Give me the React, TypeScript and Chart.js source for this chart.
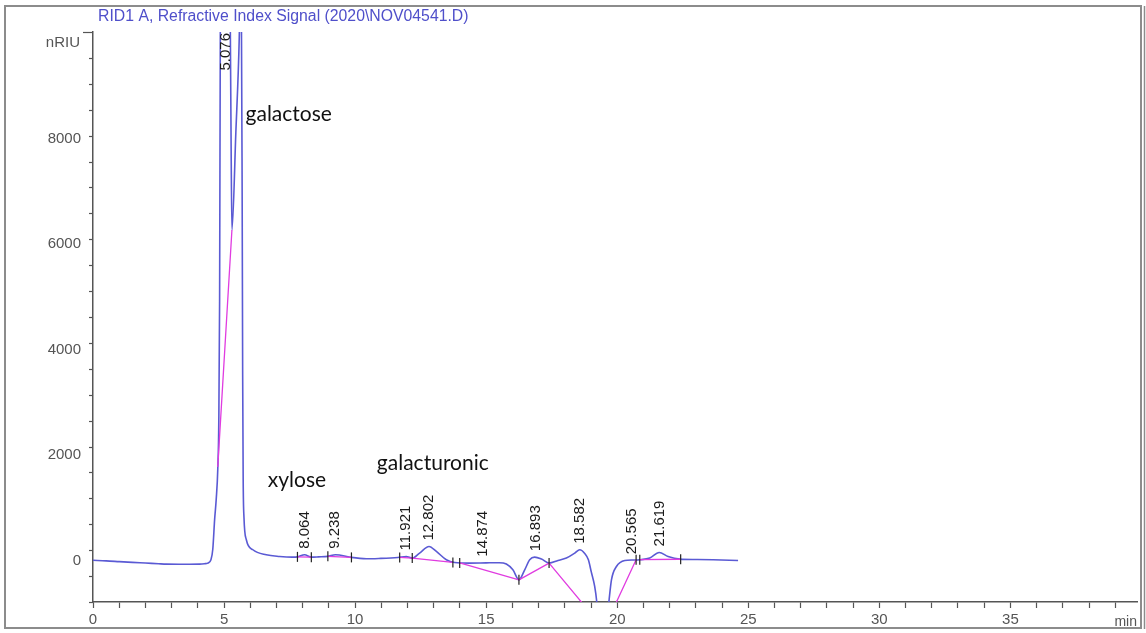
import React, { useEffect, useRef } from "react";
import { Chart, registerables } from "chart.js";

Chart.register(...registerables);

// ---- data (retention time in min, signal in nRIU) ----
const timeMin = [
  0, 0.5, 1, 1.5, 2, 2.5, 2.8, 3.5, 4.06, 4.25,
  4.38, 4.5, 4.57, 4.64, 4.7, 4.76, 4.8, 4.83, 4.86, 4.92,
  5.1, 5.2, 5.24, 5.27, 5.3, 5.45, 5.58, 5.62, 5.66, 5.69,
  5.71, 5.73, 5.76, 5.85, 6.1, 6.61, 7.12, 7.6, 7.8, 8.07,
  8.33, 8.6, 8.96, 9.25, 9.4, 9.86, 10.43, 10.9, 11.63, 11.95,
  12.18, 12.46, 12.82, 13.1, 13.48, 13.8, 14.37, 15.0, 15.5, 15.77,
  16.02, 16.25, 16.47, 16.66, 16.85, 17.11, 17.4, 17.74, 18.06, 18.38,
  18.57, 18.76, 18.9, 19.01, 19.14, 19.22, 19.3, 19.45, 19.6, 19.69,
  19.78, 19.97, 20.29, 20.6, 20.86, 21.24, 21.6, 21.94, 22.39, 23.0,
  23.66, 24.61,
];
const signalNRIU = [
  -10, -20, -35, -50, -62, -75, -82, -85, -82, -75,
  -63, 0, 200, 760, 1140, 1710, 2650, 4900, 10500, 13000,
  13000, 11500, 10000, 7800, 6250, 8100, 9900, 11000, 10500, 7000,
  3500, 1500, 800, 380, 190, 95, 63, 50, 55, 95,
  50, 55, 65, 95, 90, 45, 19, 25, 44, 63,
  32, 127, 252, 158, 0, -51, -63, -58, -55, -80,
  -190, -380, -190, 0, 50, 13, -63, -13, 32, 127,
  190, 120, 0, -230, -506, -800, -1300, -1500, -1200, -760,
  -380, -127, -15, -5, 0, 32, 139, 63, 13, 5,
  0, -13,
];

// integration baselines (magenta)
const baseStartT = [4.76, 7.8, 8.96, 11.7, 12.18, 13.99, 16.25, 17.4, 19.9, 20.86];
const baseStartV = [1760, 55, 65, 45, 32, -60, -380, -63, -875, 2];
const baseEndT = [5.3, 8.33, 9.86, 12.18, 13.73, 16.25, 17.4, 18.8, 20.72, 22.42];
const baseEndV = [6250, 50, 45, 32, -50, -380, -63, -900, 0, 10];

// peak start / end markers
const markerT = [7.8, 8.33, 8.96, 9.86, 11.7, 12.18, 13.73, 13.99, 16.25, 17.4, 20.72, 20.86, 22.42];
const markerV = [55, 50, 65, 45, 45, 32, -50, -60, -380, -63, 0, 2, 10];

// peak labels
const peakLabels = ["5.076", "8.064", "9.238", "11.921", "12.802", "14.874", "16.893", "18.582", "20.565", "21.619"];
const peakTimes = [5.076, 8.064, 9.238, 11.921, 12.802, 14.874, 16.893, 18.582, 20.565, 21.619];
const peakHeights = [13000, 95, 95, 63, 252, -55, 50, 190, -10, 139];

// compound notes
const noteTexts = ["galactose", "xylose", "galacturonic"];
const noteTimes = [5.82, 6.67, 10.83];
const noteValues = [8322, 1384, 1706];

// axes
const X_MIN = 0;
const X_MAX = 39.83;
const Y_MIN = -800;
const Y_MAX = 10000;
const X_STEP = 1;
const X_LABEL_STEP = 5;
const Y_STEP = 500;
const Y_LABEL_STEP = 2000;
const yTickLabels = ["0", "2000", "4000", "6000", "8000"];
const yTickLabelValues = [0, 2000, 4000, 6000, 8000];

const TITLE = "RID1 A, Refractive Index Signal (2020\\NOV04541.D)";
const Y_UNIT = "nRIU";
const X_UNIT = "min";

const SANS = '"Liberation Sans", Arial, sans-serif';
const AXIS_COLOR = "#555555";

const overlay = {
  id: "overlay",
  afterDraw(chart: any) {
    const { ctx, chartArea } = chart;
    const xs = chart.scales.x;
    const ys = chart.scales.y;
    ctx.save();

    // outer frame
    ctx.strokeStyle = "#8c8c8c";
    ctx.lineWidth = 2;
    ctx.strokeRect(5, 6, 1136, 622);
    ctx.lineWidth = 1.5;
    ctx.beginPath();
    ctx.moveTo(1144.5, 6);
    ctx.lineTo(1144.5, 629);
    ctx.stroke();

    // y ticks: major (long) and minor (short)
    ctx.strokeStyle = AXIS_COLOR;
    ctx.lineWidth = 1.2;
    ys.ticks.forEach((t: any) => {
      const major = Math.abs(t.value % Y_LABEL_STEP) < 1e-6;
      const py = Math.round(ys.getPixelForValue(t.value)) + 0.5;
      ctx.beginPath();
      ctx.moveTo(chartArea.left - (major ? 10 : 4), py);
      ctx.lineTo(chartArea.left, py);
      ctx.stroke();
    });

    // y tick labels
    ctx.fillStyle = AXIS_COLOR;
    ctx.font = `15px ${SANS}`;
    ctx.textAlign = "right";
    ctx.textBaseline = "middle";
    yTickLabels.forEach((lab, i) => {
      ctx.fillText(lab, chartArea.left - 12, ys.getPixelForValue(yTickLabelValues[i]) + 1);
    });

    // title
    ctx.fillStyle = "#4f4fca";
    ctx.font = `15.8px ${SANS}`;
    ctx.textAlign = "left";
    ctx.textBaseline = "middle";
    ctx.fillText(TITLE, 98, 17);

    // unit labels
    ctx.fillStyle = AXIS_COLOR;
    ctx.font = `15px ${SANS}`;
    ctx.textAlign = "right";
    ctx.fillText(Y_UNIT, 80, 43);
    ctx.font = `14px ${SANS}`;
    ctx.fillText(X_UNIT, chartArea.right, 622);

    // peak labels (rotated)
    ctx.fillStyle = "#1a1a1a";
    ctx.font = `15px ${SANS}`;
    ctx.textAlign = "left";
    ctx.textBaseline = "middle";
    peakLabels.forEach((lab, i) => {
      const px = xs.getPixelForValue(peakTimes[i]);
      const w = ctx.measureText(lab).width;
      let by = ys.getPixelForValue(peakHeights[i]) - 6;
      if (by - w < chartArea.top + 1) by = chartArea.top + 1 + w;
      ctx.save();
      ctx.translate(px, by);
      ctx.rotate(-Math.PI / 2);
      ctx.fillText(lab, 0, 0);
      ctx.restore();
    });

    // compound notes
    ctx.fillStyle = "#111111";
    ctx.font = `21px Lato, "Open Sans", sans-serif`;
    ctx.textAlign = "left";
    ctx.textBaseline = "alphabetic";
    noteTexts.forEach((t, i) => {
      ctx.fillText(t, xs.getPixelForValue(noteTimes[i]), ys.getPixelForValue(noteValues[i]));
    });

    ctx.restore();
  },
};

export default function App() {
  const ref = useRef<HTMLCanvasElement | null>(null);

  useEffect(() => {
    document.body.style.margin = "0";
    const canvas = ref.current;
    if (!canvas) return;

    const signalData = timeMin.map((t, i) => ({ x: t, y: signalNRIU[i] }));
    const baseData: any[] = [];
    baseStartT.forEach((t, i) => {
      baseData.push({ x: t, y: baseStartV[i] });
      baseData.push({ x: baseEndT[i], y: baseEndV[i] });
      baseData.push({ x: baseEndT[i], y: null });
    });
    const markerData = markerT.map((t, i) => ({ x: t, y: markerV[i] }));

    const chart = new Chart(canvas, {
      type: "line",
      data: {
        datasets: [
          {
            label: "markers",
            data: markerData,
            showLine: false,
            pointStyle: "line",
            pointRotation: 90,
            pointRadius: 5,
            pointBorderColor: "#222222",
            pointBorderWidth: 1.2,
          } as any,
          {
            label: "baseline",
            data: baseData,
            borderColor: "#e03ce0",
            borderWidth: 1.3,
            pointRadius: 0,
            tension: 0,
            spanGaps: false,
          },
          {
            label: "RID1 A",
            data: signalData,
            borderColor: "#5a5ad4",
            borderWidth: 1.6,
            pointRadius: 0,
            cubicInterpolationMode: "monotone",
          },
        ],
      },
      options: {
        responsive: false,
        animation: false,
        devicePixelRatio: 1,
        layout: { padding: { left: 0, top: 32, right: 9, bottom: 0 } },
        plugins: {
          legend: { display: false },
          tooltip: { enabled: false },
          title: { display: false },
        },
        events: [],
        scales: {
          x: {
            type: "linear",
            min: X_MIN,
            max: X_MAX,
            afterFit: (s: any) => {
              s.height = 31;
            },
            border: { color: AXIS_COLOR, width: 1.5 },
            grid: {
              drawOnChartArea: false,
              drawTicks: true,
              tickLength: 6,
              tickColor: AXIS_COLOR,
              tickWidth: 1.2,
            },
            ticks: {
              stepSize: X_STEP,
              autoSkip: false,
              maxRotation: 0,
              includeBounds: false,
              padding: 3,
              color: AXIS_COLOR,
              font: { family: SANS, size: 15 },
              callback: (v: any) => (Math.abs(Number(v) % X_LABEL_STEP) < 1e-9 ? String(v) : ""),
            },
          },
          y: {
            type: "linear",
            min: Y_MIN,
            max: Y_MAX,
            afterFit: (s: any) => {
              s.width = 93;
            },
            border: { color: AXIS_COLOR, width: 1.5 },
            grid: {
              drawOnChartArea: false,
              drawTicks: false,
            },
            ticks: {
              stepSize: Y_STEP,
              autoSkip: false,
              includeBounds: false,
              display: false,
            },
          },
        },
      },
      plugins: [overlay],
    });

    return () => chart.destroy();
  }, []);

  return (
    <canvas
      ref={ref}
      width={1146}
      height={633}
      style={{ display: "block", width: "1146px", height: "633px" }}
    />
  );
}
